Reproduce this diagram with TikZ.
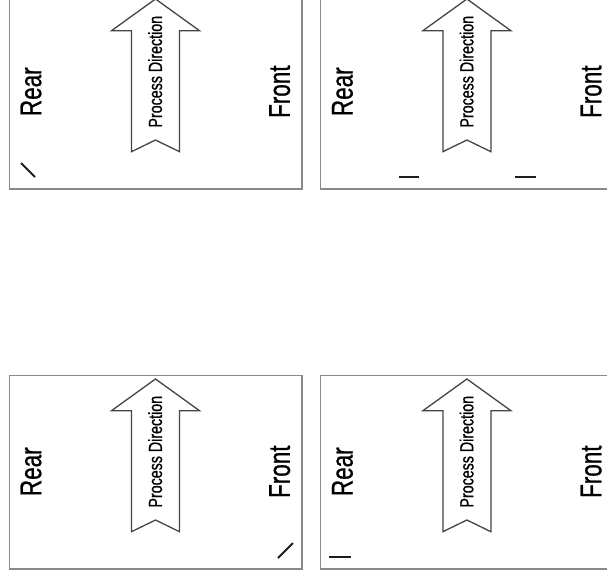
\documentclass[tikz,border=0pt]{standalone}
\usepackage{fontspec}
\newfontfamily\narrowsans[FakeStretch=0.75,FakeBold=0.8]{Liberation Sans}
\usetikzlibrary{positioning,calc}
\definecolor{frameline}{RGB}{138,138,138}
\definecolor{arrowline}{RGB}{68,68,68}
\definecolor{tickline}{RGB}{30,30,30}

\begin{document}
\begin{tikzpicture}[x=1pt,y=-1pt,every node/.style={inner sep=0pt}]
  \tikzstyle{sheetbox}=[draw=frameline, line width=1.4pt]
  \tikzstyle{procarrow}=[draw=arrowline, line width=1.3pt, line join=miter]
  \tikzstyle{tickstroke}=[draw=tickline, line width=2pt]
  \tikzstyle{sidelabel}=[rotate=90, font={\narrowsans\fontsize{30}{33}\selectfont}]
  \tikzstyle{proclabel}=[rotate=90, font={\narrowsans\fontsize{19}{21}\selectfont}]
  \useasboundingbox (0,0) rectangle (607,578);
  % four sheets, same layout
  \foreach \ox/\oy/\nm in {9.3/-4.3/tl, 320.7/-4.3/tr, 9.3/375.7/bl, 320.7/375.7/br}{
    \begin{scope}[shift={(\ox,\oy)}]
      \draw[sheetbox] (0,0) rectangle (292.7,193.3);
      \draw[procarrow] (146.2,3.3) -- (190.2,35) -- (170.2,35) -- (170.2,156)
        -- (146.2,144.3) -- (122.2,156) -- (122.2,35) -- (102.2,35) -- cycle;
      \node[proclabel] (proc-\nm) at (145.9,76) {Process Direction};
      \node[sidelabel] (rear-\nm) at (21.7,96) {Rear};
      \node[sidelabel] (front-\nm) at (270.4,96) {Front};
    \end{scope}
  }
  % marks
  \draw[tickstroke] (21,163) -- (35,177);
  \draw[tickstroke] (399,177) -- (419,177);
  \draw[tickstroke] (515,177) -- (536,177);
  \draw[tickstroke] (278,558) -- (293,543);
  \draw[tickstroke] (329,556.7) -- (351,556.7);
\end{tikzpicture}
\end{document}
